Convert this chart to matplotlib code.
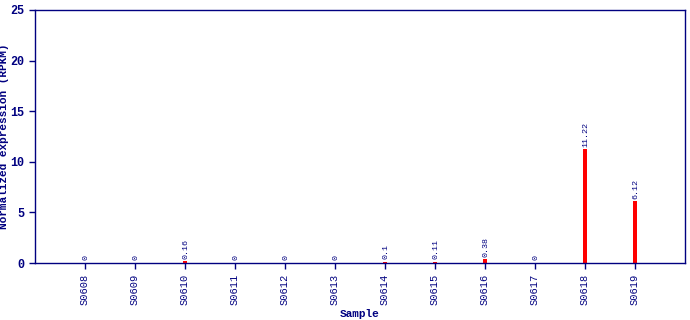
import matplotlib
matplotlib.use("Agg")
import matplotlib.pyplot as plt
import numpy as np

# data
samples = ["S0608", "S0609", "S0610", "S0611", "S0612", "S0613",
           "S0614", "S0615", "S0616", "S0617", "S0618", "S0619"]
rpkm = [0, 0, 0.16, 0, 0, 0, 0.1, 0.11, 0.38, 0, 11.22, 6.12]
value_labels = ["0", "0", "0.16", "0", "0", "0", "0.1", "0.11", "0.38", "0", "11.22", "6.12"]
y_ticks = [0, 5, 10, 15, 20, 25]

navy = "#000080"
mono = ["Liberation Mono", "DejaVu Sans Mono"]

fig = plt.figure(figsize=(6.9, 3.2), dpi=100)
ax = fig.add_axes([35 / 690, 57 / 320, 650 / 690, 253 / 320])

x = np.arange(len(samples))
ax.bar(x, rpkm, width=0.08, color="red", edgecolor="none", zorder=2)

for xi, v, lab in zip(x, rpkm, value_labels):
    ax.text(xi + 0.02, v + 0.25, lab, rotation=90, ha="center", va="bottom",
            fontsize=6, color=navy, family=mono)

ax.set_xlim(-1, 12)
ax.set_ylim(0, 25)
ax.set_xticks(x)
ax.set_xticklabels(samples, rotation=90, fontsize=7.5, color=navy, family=mono)
ax.set_yticks(y_ticks)
ax.set_yticklabels([str(t) for t in y_ticks], fontsize=8.5, color=navy,
                   family=mono, fontweight="bold")
ax.tick_params(colors=navy, length=4, width=1)
for s in ax.spines.values():
    s.set_color(navy)
    s.set_linewidth(1)

ax.set_xlabel("Sample", fontsize=8, color=navy, family=mono, fontweight="bold", labelpad=3)
ax.set_ylabel("Normalized expression (RPKM)", fontsize=8, color=navy, family=mono,
              fontweight="bold", labelpad=1)

fig.savefig("out.png", dpi=100)
